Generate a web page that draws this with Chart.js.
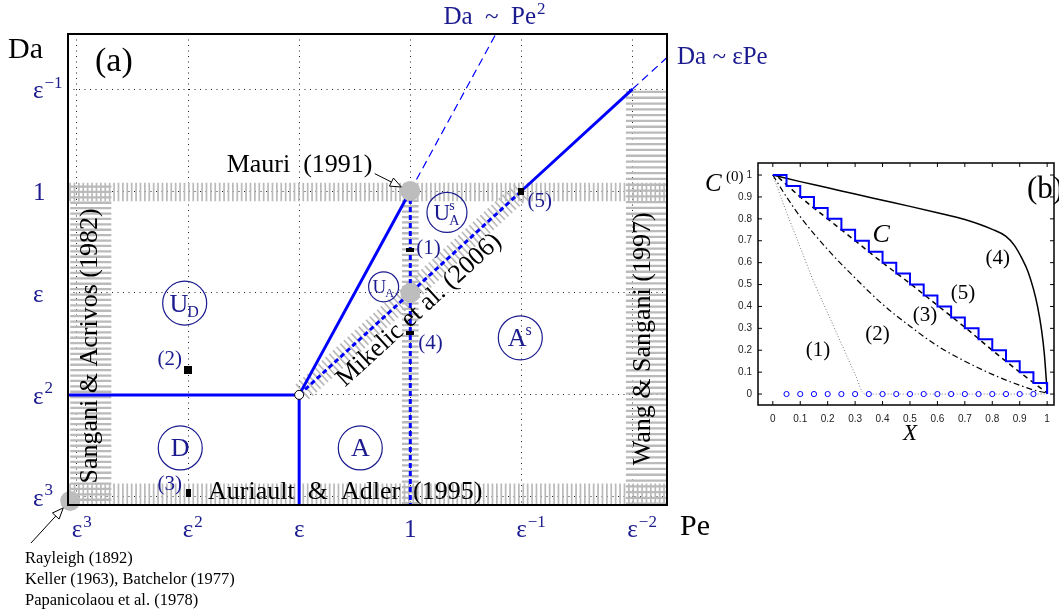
<!DOCTYPE html>
<html>
<head>
<meta charset="utf-8">
<title>Regime diagram</title>
<script src="https://cdn.jsdelivr.net/npm/chart.js@4.4.1/dist/chart.umd.min.js"></script>
<style>
  html, body { margin: 0; padding: 0; background: #fff; }
  #page { position: relative; width: 1059px; height: 613px; overflow: hidden; }
  #map { position: absolute; left: 0; top: 0; }
  #prof { position: absolute; left: 700px; top: 150px; }
</style>
</head>
<body>
<div id="page">
  <canvas id="map" width="1059" height="613"></canvas>
  <canvas id="prof" width="359" height="300"></canvas>
</div>
<script>
// ---- (a) regime map, both axes in powers of epsilon: Pe = eps^-k, Da = eps^-j ----
var peTickVals = [-3, -2, -1, 0, 1, 2];
var peTickText = [['ε', '3'], ['ε', '2'], ['ε', ''], ['1', ''], ['ε', '−1'], ['ε', '−2']];
var daTickVals = [-3, -2, -1, 0, 1];
var daTickText = [['ε', '3'], ['ε', '2'], ['ε', ''], ['1', ''], ['ε', '−1']];
var peRange = [-3.08, 2.31];
var daRange = [-3.08, 1.54];

var diffusionLine = [{x: -3.2, y: -2}, {x: -1, y: -2}];
var advectionLine = [{x: -1, y: -2}, {x: -1, y: -3.2}];
var pe2Line = [{x: -1, y: -2}, {x: 0, y: 0}];
var pe2Extension = [{x: 0, y: 0}, {x: 0.8, y: 1.6}];
var mikelicLine = [{x: -1, y: -2}, {x: 1, y: 0}];
var epsPeLine = [{x: 1, y: 0}, {x: 2, y: 1}];
var epsPeExtension = [{x: 2, y: 1}, {x: 2.4, y: 1.4}];
var unitPeLine = [{x: 0, y: 0}, {x: 0, y: -3.2}];
var literaturePts = [{x: 0, y: 0}, {x: 0, y: -1}, {x: -3.06, y: -3.04}];
var triplePoint = [{x: -1, y: -2}];
var casePts = [{x: 0, y: -0.58}, {x: -2, y: -1.76}, {x: -2, y: -2.96}, {x: 0, y: -1.39}, {x: 1, y: 0}];
var caseNames = ['(1)', '(2)', '(3)', '(4)', '(5)'];
var regionPos = [{x: -2.03, y: -1.1}, {x: -2.07, y: -2.52}, {x: -0.45, y: -2.52}, {x: 0.99, y: -1.44}, {x: -0.24, y: -0.94}, {x: 0.33, y: -0.21}];
var regionNames = [['U', 'D', ''], ['D', '', ''], ['A', '', ''], ['A', '', 's'], ['U', 'A', ''], ['U', 'A', 's']];

// hatched literature bands [kMin, kMax, jMin, jMax]
var bandDaOne = [-3.2, 2.4, -0.1, 0.08];
var bandBottom = [-3.2, 2.4, -3.2, -2.87];
var bandSangani = [-3.06, -2.69, -3.2, 0.07];
var bandWang = [1.94, 2.31, -3.2, 1.0];
var bandPeOne = [-0.075, 0.075, -3.2, -0.07];

// ---- (b) concentration profiles ----
var xTicksB = [0, 0.1, 0.2, 0.3, 0.4, 0.5, 0.6, 0.7, 0.8, 0.9, 1];
var cTicksB = [0, 0.1, 0.2, 0.3, 0.4, 0.5, 0.6, 0.7, 0.8, 0.9, 1];
var profile1 = [{x: 0, y: 1}, {x: 0.05, y: 0.83}, {x: 0.1, y: 0.67}, {x: 0.15, y: 0.51}, {x: 0.2, y: 0.37},
  {x: 0.25, y: 0.23}, {x: 0.3, y: 0.09}, {x: 0.335, y: 0}, {x: 1, y: 0}];
var profile2 = [{x: 0, y: 1}, {x: 0.05, y: 0.9}, {x: 0.1, y: 0.81}, {x: 0.2, y: 0.66}, {x: 0.3, y: 0.53},
  {x: 0.4, y: 0.41}, {x: 0.5, y: 0.31}, {x: 0.6, y: 0.22}, {x: 0.7, y: 0.15}, {x: 0.8, y: 0.09},
  {x: 0.9, y: 0.04}, {x: 0.96, y: 0.015}, {x: 1, y: 0.005}];
var profile3 = [{x: 0.02, y: 0.99}, {x: 0.1, y: 0.9}, {x: 0.2, y: 0.8}, {x: 0.3, y: 0.7}, {x: 0.4, y: 0.6},
  {x: 0.5, y: 0.505}, {x: 0.6, y: 0.405}, {x: 0.7, y: 0.305}, {x: 0.8, y: 0.2}, {x: 0.9, y: 0.1}, {x: 1, y: 0.005}];
var profile4 = [{x: 0, y: 1}, {x: 0.1, y: 0.97}, {x: 0.2, y: 0.942}, {x: 0.3, y: 0.913}, {x: 0.4, y: 0.885},
  {x: 0.5, y: 0.857}, {x: 0.6, y: 0.828}, {x: 0.7, y: 0.797}, {x: 0.8, y: 0.752}, {x: 0.85, y: 0.72},
  {x: 0.88, y: 0.68}, {x: 0.91, y: 0.615}, {x: 0.93, y: 0.56}, {x: 0.95, y: 0.48}, {x: 0.965, y: 0.4},
  {x: 0.98, y: 0.29}, {x: 0.99, y: 0.18}, {x: 1, y: 0.01}];
var stairX = [0, 0.05, 0.1, 0.15, 0.2, 0.25, 0.3, 0.35, 0.4, 0.45, 0.5, 0.55, 0.6, 0.65, 0.7, 0.75, 0.8, 0.85, 0.9, 0.95, 1];
var stairC = [1, 0.95, 0.9, 0.85, 0.8, 0.75, 0.7, 0.65, 0.6, 0.55, 0.5, 0.45, 0.4, 0.35, 0.3, 0.25, 0.2, 0.15, 0.1, 0.05, 0];
var sampleX = [0.05, 0.1, 0.15, 0.2, 0.25, 0.3, 0.35, 0.4, 0.45, 0.5, 0.55, 0.6, 0.65, 0.7, 0.75, 0.8, 0.85, 0.9, 0.95];
var sampleC = [0, 0, 0, 0, 0, 0, 0, 0, 0, 0, 0, 0, 0, 0, 0, 0, 0, 0, 0];
var curveTags = ['(1)', '(2)', '(3)', '(4)', '(5)'];
var curveTagPos = [{x: 0.165, y: 0.2}, {x: 0.382, y: 0.27}, {x: 0.555, y: 0.36}, {x: 0.82, y: 0.62}, {x: 0.693, y: 0.46}];

// ---- styles ----
var NAVY = '#1b1b8f';
var BLUE = '#0000ff';
var SERIF = '"Liberation Serif", "Times New Roman", serif';
var SANS = '"Liberation Sans", Arial, sans-serif';
var regionRadius = [22, 22, 22, 22, 15, 20];
var regionFont = [26, 26, 26, 26, 19, 23];
var caseLabelOffset = [[6, -2, 'left'], [-6, -11, 'right'], [-6, -8, 'right'], [8, 11, 'left'], [6, 10, 'left']];

function rectGlyph(w, h) {
  var c = document.createElement('canvas');
  c.width = w; c.height = h;
  var g = c.getContext('2d');
  g.fillStyle = '#000';
  g.fillRect(0, 0, w, h);
  return c;
}
var caseGlyphs = [rectGlyph(8, 4), rectGlyph(8, 8), rectGlyph(5, 8), rectGlyph(8, 4), rectGlyph(6, 7)];

function lineSet(data, width, dash) {
  return {data: data, showLine: true, borderColor: BLUE, borderWidth: width, borderDash: dash || [],
          pointRadius: 0, fill: false, tension: 0};
}

function hatchH(ctx, X, Y, box, gap, width) {
  var x0 = X.getPixelForValue(box[0]), x1 = X.getPixelForValue(box[1]);
  var yA = Y.getPixelForValue(box[3]), yB = Y.getPixelForValue(box[2]);
  ctx.lineWidth = width;
  ctx.beginPath();
  for (var y = yA + gap / 2; y < yB; y += gap) { ctx.moveTo(x0, y); ctx.lineTo(x1, y); }
  ctx.stroke();
}
function hatchV(ctx, X, Y, box, gap, width) {
  var xA = X.getPixelForValue(box[0]), xB = X.getPixelForValue(box[1]);
  var y0 = Y.getPixelForValue(box[3]), y1 = Y.getPixelForValue(box[2]);
  ctx.lineWidth = width;
  ctx.beginPath();
  for (var x = xA + gap / 2; x < xB; x += gap) { ctx.moveTo(x, y0); ctx.lineTo(x, y1); }
  ctx.stroke();
}
function hatchAlong(ctx, X, Y, seg, gap, half, width) {
  var x0 = X.getPixelForValue(seg[0].x), y0 = Y.getPixelForValue(seg[0].y);
  var x1 = X.getPixelForValue(seg[1].x), y1 = Y.getPixelForValue(seg[1].y);
  var len = Math.hypot(x1 - x0, y1 - y0), ux = (x1 - x0) / len, uy = (y1 - y0) / len;
  ctx.lineWidth = width;
  ctx.beginPath();
  for (var t = gap; t < len; t += gap) {
    var cx = x0 + ux * t, cy = y0 + uy * t;
    ctx.moveTo(cx - uy * half, cy + ux * half);
    ctx.lineTo(cx + uy * half, cy - ux * half);
  }
  ctx.stroke();
}
function rotText(ctx, txt, x, y, ang) {
  ctx.save();
  ctx.translate(x, y);
  ctx.rotate(ang);
  ctx.textAlign = 'center';
  ctx.textBaseline = 'middle';
  ctx.fillText(txt, 0, 0);
  ctx.restore();
}
// base text with a raised exponent; anchor 'center' centres the base glyph on x
function supText(ctx, base, exp, x, y, anchor, size) {
  ctx.textBaseline = 'alphabetic';
  ctx.textAlign = 'left';
  ctx.font = size + 'px ' + SERIF;
  var wb = ctx.measureText(base).width;
  var x0 = anchor === 'center' ? x - wb / 2 : x;
  ctx.fillText(base, x0, y);
  if (exp) {
    ctx.font = Math.round(size * 0.66) + 'px ' + SERIF;
    ctx.fillText(exp, x0 + wb + 1, y - size * 0.42);
  }
}
function drawArrow(ctx, x0, y0, x1, y1) {
  var ang = Math.atan2(y1 - y0, x1 - x0), L = 11, W = 4.5;
  var bx = x1 - L * Math.cos(ang), by = y1 - L * Math.sin(ang);
  ctx.strokeStyle = '#000';
  ctx.lineWidth = 1;
  ctx.beginPath(); ctx.moveTo(x0, y0); ctx.lineTo(bx, by); ctx.stroke();
  ctx.beginPath();
  ctx.moveTo(x1, y1);
  ctx.lineTo(bx + W * Math.sin(ang), by - W * Math.cos(ang));
  ctx.lineTo(bx - W * Math.sin(ang), by + W * Math.cos(ang));
  ctx.closePath();
  ctx.fillStyle = '#fff'; ctx.fill(); ctx.stroke();
}
function drawRegion(ctx, cx, cy, r, parts, size) {
  ctx.strokeStyle = NAVY; ctx.fillStyle = NAVY; ctx.lineWidth = 1.2;
  ctx.beginPath(); ctx.arc(cx, cy, r, 0, 2 * Math.PI); ctx.stroke();
  var small = Math.round(size * 0.62);
  ctx.font = size + 'px ' + SERIF;
  var wm = ctx.measureText(parts[0]).width;
  ctx.font = small + 'px ' + SERIF;
  var we = Math.max(ctx.measureText(parts[1]).width, ctx.measureText(parts[2]).width);
  var x = cx - (wm + we) / 2, base = cy + size * 0.33;
  ctx.textAlign = 'left'; ctx.textBaseline = 'alphabetic';
  ctx.font = size + 'px ' + SERIF;
  ctx.fillText(parts[0], x, base);
  ctx.font = small + 'px ' + SERIF;
  if (parts[1]) ctx.fillText(parts[1], x + wm - 1, base + small * 0.35);
  if (parts[2]) ctx.fillText(parts[2], x + wm - 1, base - size * 0.45);
}

var mapDecor = {
  id: 'mapDecor',
  beforeDatasetsDraw: function (chart) {
    var ctx = chart.ctx, a = chart.chartArea, X = chart.scales.x, Y = chart.scales.y;
    ctx.save();
    ctx.beginPath(); ctx.rect(a.left, a.top, a.right - a.left, a.bottom - a.top); ctx.clip();
    ctx.strokeStyle = '#bababa';
    hatchV(ctx, X, Y, bandDaOne, 4.4, 1.7);
    hatchV(ctx, X, Y, bandBottom, 4.4, 1.7);
    hatchH(ctx, X, Y, bandSangani, 5.4, 2.3);
    hatchH(ctx, X, Y, bandWang, 5.8, 2.3);
    hatchH(ctx, X, Y, bandPeOne, 5.4, 2.3);
    hatchAlong(ctx, X, Y, mikelicLine, 5, 10, 1.7);
    ctx.restore();
  },
  afterDatasetsDraw: function (chart) {
    var ctx = chart.ctx, a = chart.chartArea, X = chart.scales.x, Y = chart.scales.y;
    var sx = function (v) { return X.getPixelForValue(v); };
    var sy = function (v) { return Y.getPixelForValue(v); };
    ctx.save();
    regionPos.forEach(function (p, i) {
      drawRegion(ctx, sx(p.x), sy(p.y), regionRadius[i], regionNames[i], regionFont[i]);
    });
    ctx.fillStyle = NAVY; ctx.font = '21px ' + SERIF; ctx.textBaseline = 'middle';
    casePts.forEach(function (p, i) {
      var o = caseLabelOffset[i];
      ctx.textAlign = o[2];
      ctx.fillText(caseNames[i], sx(p.x) + o[0], sy(p.y) + o[1]);
    });

    ctx.fillStyle = '#000'; ctx.font = '26px ' + SERIF;
    rotText(ctx, 'Sangani & Acrivos (1982)', sx(-2.88), sy(-1.52), -Math.PI / 2);
    rotText(ctx, 'Wang & Sangani (1997)', sx(2.1), sy(-1.45), -Math.PI / 2);
    var ang = Math.atan2(sy(mikelicLine[1].y) - sy(mikelicLine[0].y), sx(mikelicLine[1].x) - sx(mikelicLine[0].x));
    rotText(ctx, 'Mikelic et al. (2006)', sx(0.08), sy(-1.17), ang);
    ctx.textBaseline = 'middle';
    ctx.textAlign = 'left';
    ctx.fillText('Auriault  &  Adler  (1995)', sx(-1.82), sy(-2.95));
    ctx.textAlign = 'right';
    ctx.fillText('Mauri  (1991)', sx(-0.34), sy(0.25));
    drawArrow(ctx, sx(-0.32), sy(0.17), sx(0) - 9, sy(0) - 4);

    ctx.fillStyle = '#000'; ctx.textAlign = 'left'; ctx.textBaseline = 'middle';
    ctx.font = '34px ' + SERIF;
    ctx.fillText('(a)', a.left + 27, a.top + 28);

    ctx.strokeStyle = '#000'; ctx.lineWidth = 2;
    ctx.strokeRect(a.left, a.top, a.right - a.left, a.bottom - a.top);

    ctx.font = '30px ' + SERIF;
    ctx.fillText('Da', 8, a.top + 16);
    ctx.fillText('Pe', a.right + 13, a.bottom + 22);

    // tick labels placed on the scale's own ticks
    ctx.fillStyle = NAVY;
    X.ticks.forEach(function (t) {
      var lab = peTickText[peTickVals.indexOf(t.value)];
      supText(ctx, lab[0], lab[1], X.getPixelForValue(t.value), a.bottom + 32, 'center', 25);
    });
    Y.ticks.forEach(function (t) {
      var lab = daTickText[daTickVals.indexOf(t.value)];
      supText(ctx, lab[0], lab[1], 33, Y.getPixelForValue(t.value) + 9, 'left', 25);
    });

    ctx.fillStyle = NAVY;
    ctx.font = '25px ' + SERIF;
    var w1 = ctx.measureText('Da  ~  Pe').width;
    supText(ctx, 'Da  ~  Pe', '2', sx(0.76) - w1 / 2 - 5, a.top - 10, 'left', 25);
    supText(ctx, 'Da ~ εPe', '', a.right + 10, a.top + 30, 'left', 25);

    ctx.fillStyle = '#000'; ctx.font = '16.5px ' + SERIF; ctx.textBaseline = 'alphabetic'; ctx.textAlign = 'left';
    ctx.fillText('Rayleigh (1892)', 25, a.bottom + 58);
    ctx.fillText('Keller (1963), Batchelor (1977)', 25, a.bottom + 79);
    ctx.fillText('Papanicolaou et al. (1978)', 25, a.bottom + 100);
    drawArrow(ctx, 31, a.bottom + 38, sx(literaturePts[2].x) - 7, sy(literaturePts[2].y) + 7);
    ctx.restore();
  }
};

var mapChart = new Chart(document.getElementById('map').getContext('2d'), {
  type: 'line',
  data: {
    datasets: [
      {data: casePts, showLine: false, pointStyle: caseGlyphs, pointRadius: 4, borderWidth: 0},
      {data: triplePoint, showLine: false, pointRadius: 4.5, backgroundColor: '#fff', borderColor: '#000', borderWidth: 1},
      {data: literaturePts, showLine: false, pointRadius: 10, backgroundColor: '#bdbdbd', borderWidth: 0, clip: false},
      lineSet(diffusionLine, 3),
      lineSet(advectionLine, 3),
      lineSet(pe2Line, 3),
      lineSet(pe2Extension, 1.2, [8, 5]),
      lineSet(mikelicLine, 3, [5, 3]),
      lineSet(epsPeLine, 3),
      lineSet(epsPeExtension, 1.2, [8, 5]),
      lineSet(unitPeLine, 3, [5, 3])
    ]
  },
  options: {
    responsive: false,
    animation: false,
    devicePixelRatio: 1,
    events: [],
    layout: {padding: {left: 33, right: 392, top: 34, bottom: 0}},
    plugins: {legend: {display: false}, tooltip: {enabled: false}},
    scales: {
      x: {
        type: 'linear', min: peRange[0], max: peRange[1],
        afterBuildTicks: function (s) { s.ticks = peTickVals.map(function (v) { return {value: v}; }); },
        afterFit: function (s) { s.height = 108; },
        grid: {color: '#222', lineWidth: 1, drawTicks: false},
        border: {display: false, dash: [1, 4.5]},
        ticks: {display: false}
      },
      y: {
        type: 'linear', min: daRange[0], max: daRange[1],
        afterBuildTicks: function (s) { s.ticks = daTickVals.map(function (v) { return {value: v}; }); },
        afterFit: function (s) { s.width = 35; },
        grid: {color: '#222', lineWidth: 1, drawTicks: false},
        border: {display: false, dash: [1, 4.5]},
        ticks: {display: false}
      }
    }
  },
  plugins: [mapDecor]
});

// ---- panel (b) ----
var profDecor = {
  id: 'profDecor',
  afterDatasetsDraw: function (chart) {
    var ctx = chart.ctx, a = chart.chartArea, X = chart.scales.x, Y = chart.scales.y;
    ctx.save();
    ctx.strokeStyle = '#000'; ctx.lineWidth = 1.5;
    ctx.strokeRect(a.left, a.top, a.right - a.left, a.bottom - a.top);
    ctx.lineWidth = 1;
    ctx.beginPath();
    xTicksB.forEach(function (v) {
      var x = X.getPixelForValue(v);
      ctx.moveTo(x, a.bottom); ctx.lineTo(x, a.bottom - 4);
      ctx.moveTo(x, a.top); ctx.lineTo(x, a.top + 4);
    });
    cTicksB.forEach(function (v) {
      var y = Y.getPixelForValue(v);
      ctx.moveTo(a.left, y); ctx.lineTo(a.left + 4, y);
      ctx.moveTo(a.right, y); ctx.lineTo(a.right - 4, y);
    });
    ctx.stroke();

    ctx.fillStyle = '#000'; ctx.textAlign = 'center'; ctx.textBaseline = 'middle';
    ctx.font = '21px ' + SERIF;
    curveTagPos.forEach(function (p, i) {
      ctx.fillText(curveTags[i], X.getPixelForValue(p.x), Y.getPixelForValue(p.y));
    });
    ctx.font = 'italic 26px ' + SERIF;
    ctx.fillText('C', X.getPixelForValue(0.395), Y.getPixelForValue(0.726));
    ctx.font = 'italic 23px ' + SERIF;
    ctx.fillText('X', X.getPixelForValue(0.5), a.bottom + 29);
    ctx.textAlign = 'left';
    ctx.font = '31px ' + SERIF;
    ctx.fillText('(b)', a.right - 27, a.top + 27);
    ctx.textBaseline = 'alphabetic';
    ctx.font = 'italic 25px ' + SERIF;
    ctx.fillText('C', 5, a.top + 28);
    ctx.font = '15px ' + SERIF;
    ctx.fillText('(0)', 26, a.top + 18);
    ctx.restore();
  }
};

var profChart = new Chart(document.getElementById('prof').getContext('2d'), {
  type: 'line',
  data: {
    datasets: [
      {data: sampleX.map(function (x, i) { return {x: x, y: sampleC[i]}; }), showLine: false,
       pointRadius: 2.6, pointBackgroundColor: '#fff', pointBorderColor: BLUE, pointBorderWidth: 1, clip: false},
      {data: stairX.map(function (x, i) { return {x: x, y: stairC[i]}; }), stepped: true,
       borderColor: BLUE, borderWidth: 2, pointRadius: 0},
      {data: profile4, borderColor: '#000', borderWidth: 1.5, pointRadius: 0, cubicInterpolationMode: 'monotone'},
      {data: profile3, borderColor: '#000', borderWidth: 1.5, borderDash: [5, 4], pointRadius: 0, cubicInterpolationMode: 'monotone'},
      {data: profile2, borderColor: '#000', borderWidth: 1.2, borderDash: [6, 3, 1.5, 3], pointRadius: 0, cubicInterpolationMode: 'monotone'},
      {data: profile1, borderColor: '#777', borderWidth: 1, borderDash: [1, 2], pointRadius: 0, cubicInterpolationMode: 'monotone'}
    ]
  },
  options: {
    responsive: false,
    animation: false,
    devicePixelRatio: 1,
    events: [],
    layout: {padding: {left: 0, right: 2, top: 13, bottom: 0}},
    plugins: {legend: {display: false}, tooltip: {enabled: false}},
    scales: {
      x: {
        type: 'linear', min: -0.054, max: 1.025,
        afterBuildTicks: function (s) { s.ticks = xTicksB.map(function (v) { return {value: v}; }); },
        afterFit: function (s) { s.height = 45; },
        grid: {display: false, drawTicks: false},
        border: {display: false},
        ticks: {color: '#222', padding: 8, maxRotation: 0, autoSkip: false,
                font: {family: SANS, size: 10},
                callback: function (v) { return String(Math.round(v * 10) / 10); }}
      },
      y: {
        type: 'linear', min: -0.05, max: 1.055,
        afterBuildTicks: function (s) { s.ticks = cTicksB.map(function (v) { return {value: v}; }); },
        afterFit: function (s) { s.width = 58; },
        grid: {display: false, drawTicks: false},
        border: {display: false},
        ticks: {color: '#222', padding: 6, autoSkip: false,
                font: {family: SANS, size: 10},
                callback: function (v) { return String(Math.round(v * 10) / 10); }}
      }
    }
  },
  plugins: [profDecor]
});
</script>
</body>
</html>
